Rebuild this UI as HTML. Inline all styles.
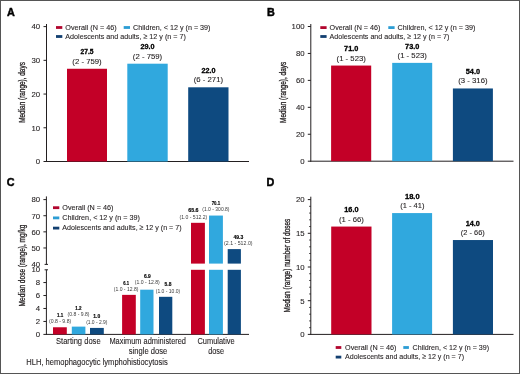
<!DOCTYPE html>
<html><head><meta charset="utf-8"><style>
html,body{margin:0;padding:0;background:#fff;}
svg{display:block;will-change:transform;font-family:"Liberation Sans",sans-serif;}
text{stroke:#231F20;stroke-width:0.1px;}
text.s{stroke-width:0;}
text.sv{stroke-width:0.15px;fill:#000;stroke:#000;}
text.L{stroke-width:0.45px;fill:#000;stroke:#000;}
text.r{stroke-width:0.3px;}
text.v{stroke-width:0.3px;fill:#000;stroke:#000;}
</style></head><body>
<svg width="520" height="374" viewBox="0 0 520 374">
<rect x="0" y="0" width="520" height="374" fill="#555"/>
<rect x="1" y="1" width="518" height="372" fill="#fff"/>
<text class="L" x="7.0" y="16.2" font-size="10.8" font-weight="bold" text-anchor="start" fill="#231F20">A</text>
<line x1="46.5" y1="24" x2="46.5" y2="162" stroke="#231F20" stroke-width="1"/>
<line x1="43.5" y1="161.5" x2="46.5" y2="161.5" stroke="#231F20" stroke-width="1"/>
<text x="40.2" y="164.3" font-size="7.8" font-weight="normal" text-anchor="end" fill="#231F20">0</text>
<line x1="43.5" y1="127.78" x2="46.5" y2="127.78" stroke="#231F20" stroke-width="1"/>
<text x="40.2" y="130.58" font-size="7.8" font-weight="normal" text-anchor="end" fill="#231F20">10</text>
<line x1="43.5" y1="94.05" x2="46.5" y2="94.05" stroke="#231F20" stroke-width="1"/>
<text x="40.2" y="96.85" font-size="7.8" font-weight="normal" text-anchor="end" fill="#231F20">20</text>
<line x1="43.5" y1="60.33" x2="46.5" y2="60.33" stroke="#231F20" stroke-width="1"/>
<text x="40.2" y="63.12" font-size="7.8" font-weight="normal" text-anchor="end" fill="#231F20">30</text>
<line x1="43.5" y1="26.6" x2="46.5" y2="26.6" stroke="#231F20" stroke-width="1"/>
<text x="40.2" y="29.4" font-size="7.8" font-weight="normal" text-anchor="end" fill="#231F20">40</text>
<line x1="46" y1="161.5" x2="249" y2="161.5" stroke="#231F20" stroke-width="1"/>
<rect x="67" y="68.76" width="40" height="92.74" fill="#C30027"/>
<rect x="127.3" y="63.7" width="40.4" height="97.8" fill="#30A8DE"/>
<rect x="188.2" y="87.3" width="40.3" height="74.2" fill="#0E4A80"/>
<text class="v" x="87" y="54.46" font-size="7" font-weight="bold" text-anchor="middle" fill="#231F20" textLength="13" lengthAdjust="spacingAndGlyphs">27.5</text>
<text x="87" y="63.76" font-size="7.3" font-weight="normal" text-anchor="middle" fill="#231F20" textLength="29.3" lengthAdjust="spacingAndGlyphs">(2 - 759)</text>
<text class="v" x="147.5" y="49.4" font-size="7" font-weight="bold" text-anchor="middle" fill="#231F20" textLength="14" lengthAdjust="spacingAndGlyphs">29.0</text>
<text x="147.5" y="58.7" font-size="7.3" font-weight="normal" text-anchor="middle" fill="#231F20" textLength="29.3" lengthAdjust="spacingAndGlyphs">(2 - 759)</text>
<text class="v" x="208.4" y="73" font-size="7" font-weight="bold" text-anchor="middle" fill="#231F20" textLength="14" lengthAdjust="spacingAndGlyphs">22.0</text>
<text x="208.4" y="82.3" font-size="7.3" font-weight="normal" text-anchor="middle" fill="#231F20" textLength="29.3" lengthAdjust="spacingAndGlyphs">(6 - 271)</text>
<rect x="56" y="26.1" width="6.3" height="2.8" fill="#B2062E"/>
<text x="65.3" y="29.5" font-size="8.0" font-weight="normal" text-anchor="start" fill="#231F20" textLength="51.3" lengthAdjust="spacingAndGlyphs">Overall (N = 46)</text>
<rect x="123.7" y="26.1" width="6.3" height="2.8" fill="#2C9DD4"/>
<text x="133.0" y="29.5" font-size="8.0" font-weight="normal" text-anchor="start" fill="#231F20" textLength="77.5" lengthAdjust="spacingAndGlyphs">Children, &lt; 12 y (n = 39)</text>
<rect x="56" y="35.1" width="6.3" height="2.8" fill="#123F70"/>
<text x="65.3" y="38.5" font-size="8.0" font-weight="normal" text-anchor="start" fill="#231F20" textLength="120.5" lengthAdjust="spacingAndGlyphs">Adolescents and adults, ≥ 12 y (n = 7)</text>
<text class="r" transform="translate(25.3,92.5) rotate(-90)" font-size="8.6" text-anchor="middle" fill="#231F20" textLength="60.7" lengthAdjust="spacingAndGlyphs">Median (range), days</text>
<text class="L" x="267.0" y="16" font-size="10.8" font-weight="bold" text-anchor="start" fill="#231F20">B</text>
<line x1="310.8" y1="24" x2="310.8" y2="161.7" stroke="#231F20" stroke-width="1"/>
<line x1="307.8" y1="161.2" x2="310.8" y2="161.2" stroke="#231F20" stroke-width="1"/>
<text x="304.6" y="164.0" font-size="7.8" font-weight="normal" text-anchor="end" fill="#231F20">0</text>
<line x1="307.8" y1="134.26" x2="310.8" y2="134.26" stroke="#231F20" stroke-width="1"/>
<text x="304.6" y="137.06" font-size="7.8" font-weight="normal" text-anchor="end" fill="#231F20">20</text>
<line x1="307.8" y1="107.32" x2="310.8" y2="107.32" stroke="#231F20" stroke-width="1"/>
<text x="304.6" y="110.12" font-size="7.8" font-weight="normal" text-anchor="end" fill="#231F20">40</text>
<line x1="307.8" y1="80.38" x2="310.8" y2="80.38" stroke="#231F20" stroke-width="1"/>
<text x="304.6" y="83.18" font-size="7.8" font-weight="normal" text-anchor="end" fill="#231F20">60</text>
<line x1="307.8" y1="53.44" x2="310.8" y2="53.44" stroke="#231F20" stroke-width="1"/>
<text x="304.6" y="56.24" font-size="7.8" font-weight="normal" text-anchor="end" fill="#231F20">80</text>
<line x1="307.8" y1="26.5" x2="310.8" y2="26.5" stroke="#231F20" stroke-width="1"/>
<text x="304.6" y="29.3" font-size="7.8" font-weight="normal" text-anchor="end" fill="#231F20">100</text>
<line x1="310.3" y1="161.2" x2="513.5" y2="161.2" stroke="#231F20" stroke-width="1"/>
<rect x="331.1" y="65.56" width="40.1" height="95.64" fill="#C30027"/>
<rect x="392.2" y="62.87" width="40" height="98.33" fill="#30A8DE"/>
<rect x="452.9" y="88.46" width="40" height="72.74" fill="#0E4A80"/>
<text class="v" x="351.2" y="51.26" font-size="7" font-weight="bold" text-anchor="middle" fill="#231F20" textLength="14.2" lengthAdjust="spacingAndGlyphs">71.0</text>
<text x="351.2" y="60.56" font-size="7.3" font-weight="normal" text-anchor="middle" fill="#231F20" textLength="29.2" lengthAdjust="spacingAndGlyphs">(1 - 523)</text>
<text class="v" x="412.2" y="48.57" font-size="7" font-weight="bold" text-anchor="middle" fill="#231F20" textLength="14.2" lengthAdjust="spacingAndGlyphs">73.0</text>
<text x="412.2" y="57.87" font-size="7.3" font-weight="normal" text-anchor="middle" fill="#231F20" textLength="29.2" lengthAdjust="spacingAndGlyphs">(1 - 523)</text>
<text class="v" x="472.9" y="74.16" font-size="7" font-weight="bold" text-anchor="middle" fill="#231F20" textLength="14.2" lengthAdjust="spacingAndGlyphs">54.0</text>
<text x="472.9" y="83.46" font-size="7.3" font-weight="normal" text-anchor="middle" fill="#231F20" textLength="29.2" lengthAdjust="spacingAndGlyphs">(3 - 316)</text>
<rect x="320.3" y="26.2" width="6.3" height="2.8" fill="#B2062E"/>
<text x="329.6" y="29.6" font-size="8.0" font-weight="normal" text-anchor="start" fill="#231F20" textLength="50.7" lengthAdjust="spacingAndGlyphs">Overall (N = 46)</text>
<rect x="388.3" y="26.2" width="6.3" height="2.8" fill="#2C9DD4"/>
<text x="397.6" y="29.6" font-size="8.0" font-weight="normal" text-anchor="start" fill="#231F20" textLength="77.8" lengthAdjust="spacingAndGlyphs">Children, &lt; 12 y (n = 39)</text>
<rect x="320.3" y="35.1" width="6.3" height="2.8" fill="#123F70"/>
<text x="329.6" y="38.5" font-size="8.0" font-weight="normal" text-anchor="start" fill="#231F20" textLength="119.8" lengthAdjust="spacingAndGlyphs">Adolescents and adults, ≥ 12 y (n = 7)</text>
<text class="r" transform="translate(285.6,92.35) rotate(-90)" font-size="8.6" text-anchor="middle" fill="#231F20" textLength="61.1" lengthAdjust="spacingAndGlyphs">Median (range), days</text>
<text class="L" x="6.8" y="186" font-size="10.8" font-weight="bold" text-anchor="start" fill="#231F20">C</text>
<line x1="46.4" y1="196.4" x2="46.4" y2="264.4" stroke="#231F20" stroke-width="1"/>
<line x1="46.4" y1="269.8" x2="46.4" y2="334.9" stroke="#231F20" stroke-width="1"/>
<line x1="43.4" y1="199.6" x2="46.4" y2="199.6" stroke="#231F20" stroke-width="1"/>
<text x="40.2" y="202.4" font-size="7.8" font-weight="normal" text-anchor="end" fill="#231F20">80</text>
<line x1="43.4" y1="215.73" x2="46.4" y2="215.73" stroke="#231F20" stroke-width="1"/>
<text x="40.2" y="218.53" font-size="7.8" font-weight="normal" text-anchor="end" fill="#231F20">70</text>
<line x1="43.4" y1="231.85" x2="46.4" y2="231.85" stroke="#231F20" stroke-width="1"/>
<text x="40.2" y="234.65" font-size="7.8" font-weight="normal" text-anchor="end" fill="#231F20">60</text>
<line x1="43.4" y1="247.98" x2="46.4" y2="247.98" stroke="#231F20" stroke-width="1"/>
<text x="40.2" y="250.78" font-size="7.8" font-weight="normal" text-anchor="end" fill="#231F20">50</text>
<text x="40.2" y="266.9" font-size="7.8" font-weight="normal" text-anchor="end" fill="#231F20">40</text>
<text x="40.2" y="272.4" font-size="7.8" font-weight="normal" text-anchor="end" fill="#231F20">10</text>
<line x1="43.4" y1="282.56" x2="46.4" y2="282.56" stroke="#231F20" stroke-width="1"/>
<text x="40.2" y="285.36" font-size="7.8" font-weight="normal" text-anchor="end" fill="#231F20">8</text>
<line x1="43.4" y1="295.52" x2="46.4" y2="295.52" stroke="#231F20" stroke-width="1"/>
<text x="40.2" y="298.32" font-size="7.8" font-weight="normal" text-anchor="end" fill="#231F20">6</text>
<line x1="43.4" y1="308.48" x2="46.4" y2="308.48" stroke="#231F20" stroke-width="1"/>
<text x="40.2" y="311.28" font-size="7.8" font-weight="normal" text-anchor="end" fill="#231F20">4</text>
<line x1="43.4" y1="321.44" x2="46.4" y2="321.44" stroke="#231F20" stroke-width="1"/>
<text x="40.2" y="324.24" font-size="7.8" font-weight="normal" text-anchor="end" fill="#231F20">2</text>
<line x1="43.4" y1="334.4" x2="46.4" y2="334.4" stroke="#231F20" stroke-width="1"/>
<text x="40.2" y="337.2" font-size="7.8" font-weight="normal" text-anchor="end" fill="#231F20">0</text>
<line x1="44.6" y1="264.4" x2="48" y2="264.4" stroke="#231F20" stroke-width="1"/>
<line x1="44.6" y1="269.8" x2="48" y2="269.8" stroke="#231F20" stroke-width="1"/>
<line x1="46" y1="334.4" x2="249" y2="334.4" stroke="#231F20" stroke-width="1"/>
<rect x="53" y="327.27" width="13.8" height="7.13" fill="#C30027"/>
<rect x="71.8" y="326.62" width="13.6" height="7.78" fill="#30A8DE"/>
<rect x="90" y="327.92" width="13.8" height="6.48" fill="#0E4A80"/>
<rect x="122.1" y="294.87" width="13.7" height="39.53" fill="#C30027"/>
<rect x="140.2" y="289.69" width="13.3" height="44.71" fill="#30A8DE"/>
<rect x="159" y="296.82" width="13.3" height="37.58" fill="#0E4A80"/>
<rect x="191" y="222.82" width="13.9" height="40.78" fill="#C30027"/>
<rect x="191" y="269.8" width="13.9" height="64.6" fill="#C30027"/>
<rect x="209" y="215.56" width="13.9" height="48.04" fill="#30A8DE"/>
<rect x="209" y="269.8" width="13.9" height="64.6" fill="#30A8DE"/>
<rect x="227.7" y="249.1" width="13.2" height="14.5" fill="#0E4A80"/>
<rect x="227.7" y="269.8" width="13.2" height="64.6" fill="#0E4A80"/>
<text class="sv" x="60.1" y="316.9" font-size="5.4" font-weight="bold" text-anchor="middle" fill="#231F20" textLength="6.2" lengthAdjust="spacingAndGlyphs">1.1</text>
<text class="s" x="60.1" y="323.3" font-size="5.2" font-weight="normal" text-anchor="middle" fill="#3a3a3a" textLength="22.2" lengthAdjust="spacingAndGlyphs">(0.8 - 9.8)</text>
<text class="sv" x="78.5" y="310" font-size="5.4" font-weight="bold" text-anchor="middle" fill="#231F20" textLength="6.3" lengthAdjust="spacingAndGlyphs">1.2</text>
<text class="s" x="78.5" y="315.9" font-size="5.2" font-weight="normal" text-anchor="middle" fill="#3a3a3a" textLength="21.9" lengthAdjust="spacingAndGlyphs">(0.8 - 9.8)</text>
<text class="sv" x="96.8" y="317.5" font-size="5.4" font-weight="bold" text-anchor="middle" fill="#231F20" textLength="6.9" lengthAdjust="spacingAndGlyphs">1.0</text>
<text class="s" x="96.8" y="324" font-size="5.2" font-weight="normal" text-anchor="middle" fill="#3a3a3a" textLength="21.3" lengthAdjust="spacingAndGlyphs">(1.0 - 2.9)</text>
<text class="sv" x="126.1" y="284.7" font-size="5.4" font-weight="bold" text-anchor="middle" fill="#231F20" textLength="5.8" lengthAdjust="spacingAndGlyphs">6.1</text>
<text class="s" x="126.1" y="290.6" font-size="5.2" font-weight="normal" text-anchor="middle" fill="#3a3a3a" textLength="24.6" lengthAdjust="spacingAndGlyphs">(1.0 - 12.8)</text>
<text class="sv" x="147.3" y="278" font-size="5.4" font-weight="bold" text-anchor="middle" fill="#231F20" textLength="6.8" lengthAdjust="spacingAndGlyphs">6.9</text>
<text class="s" x="147.3" y="284.1" font-size="5.2" font-weight="normal" text-anchor="middle" fill="#3a3a3a" textLength="25" lengthAdjust="spacingAndGlyphs">(1.0 - 12.8)</text>
<text class="sv" x="168" y="286.2" font-size="5.4" font-weight="bold" text-anchor="middle" fill="#231F20" textLength="6.8" lengthAdjust="spacingAndGlyphs">5.8</text>
<text class="s" x="168" y="292.7" font-size="5.2" font-weight="normal" text-anchor="middle" fill="#3a3a3a" textLength="24.5" lengthAdjust="spacingAndGlyphs">(1.0 - 10.0)</text>
<text class="sv" x="193.4" y="211.7" font-size="5.4" font-weight="bold" text-anchor="middle" fill="#231F20" textLength="10.3" lengthAdjust="spacingAndGlyphs">65.6</text>
<text class="s" x="193.4" y="218.8" font-size="5.2" font-weight="normal" text-anchor="middle" fill="#3a3a3a" textLength="27.9" lengthAdjust="spacingAndGlyphs">(1.0 - 512.2)</text>
<text class="sv" x="215.9" y="204.8" font-size="5.4" font-weight="bold" text-anchor="middle" fill="#231F20" textLength="8.5" lengthAdjust="spacingAndGlyphs">70.1</text>
<text class="s" x="215.9" y="211.3" font-size="5.2" font-weight="normal" text-anchor="middle" fill="#3a3a3a" textLength="27.3" lengthAdjust="spacingAndGlyphs">(1.0 - 300.8)</text>
<text class="sv" x="238.3" y="238.8" font-size="5.4" font-weight="bold" text-anchor="middle" fill="#231F20" textLength="9.8" lengthAdjust="spacingAndGlyphs">49.3</text>
<text class="s" x="238.3" y="245.3" font-size="5.2" font-weight="normal" text-anchor="middle" fill="#3a3a3a" textLength="28.5" lengthAdjust="spacingAndGlyphs">(2.1 - 512.0)</text>
<rect x="53" y="206.3" width="6.3" height="2.8" fill="#B2062E"/>
<text x="62.3" y="209.7" font-size="8.0" font-weight="normal" text-anchor="start" fill="#231F20" textLength="51.2" lengthAdjust="spacingAndGlyphs">Overall (N = 46)</text>
<rect x="53" y="216.5" width="6.3" height="2.8" fill="#2C9DD4"/>
<text x="62.3" y="219.9" font-size="8.0" font-weight="normal" text-anchor="start" fill="#231F20" textLength="77.7" lengthAdjust="spacingAndGlyphs">Children, &lt; 12 y (n = 39)</text>
<rect x="53" y="226.7" width="6.3" height="2.8" fill="#123F70"/>
<text x="62.3" y="230.1" font-size="8.0" font-weight="normal" text-anchor="start" fill="#231F20" textLength="119.2" lengthAdjust="spacingAndGlyphs">Adolescents and adults, ≥ 12 y (n = 7)</text>
<text class="r" transform="translate(25.4,265.5) rotate(-90)" font-size="8.6" text-anchor="middle" fill="#231F20" textLength="81.9" lengthAdjust="spacingAndGlyphs">Median dose (range), mg/kg</text>
<text x="78.3" y="344.1" font-size="8.2" font-weight="normal" text-anchor="middle" fill="#231F20" textLength="44.6" lengthAdjust="spacingAndGlyphs">Starting dose</text>
<text x="147.7" y="344.1" font-size="8.2" font-weight="normal" text-anchor="middle" fill="#231F20" textLength="76.6" lengthAdjust="spacingAndGlyphs">Maximum administered</text>
<text x="148" y="353.6" font-size="8.2" font-weight="normal" text-anchor="middle" fill="#231F20" textLength="38.4" lengthAdjust="spacingAndGlyphs">single dose</text>
<text x="216.1" y="344.1" font-size="8.2" font-weight="normal" text-anchor="middle" fill="#231F20" textLength="37.2" lengthAdjust="spacingAndGlyphs">Cumulative</text>
<text x="216.1" y="353.6" font-size="8.2" font-weight="normal" text-anchor="middle" fill="#231F20" textLength="15.8" lengthAdjust="spacingAndGlyphs">dose</text>
<text x="26.3" y="365.2" font-size="8.2" font-weight="normal" text-anchor="start" fill="#231F20" textLength="141.4" lengthAdjust="spacingAndGlyphs">HLH, hemophagocytic lymphohistiocytosis</text>
<text class="L" x="266.6" y="186" font-size="10.8" font-weight="bold" text-anchor="start" fill="#231F20">D</text>
<line x1="310.8" y1="196.7" x2="310.8" y2="334.9" stroke="#231F20" stroke-width="1"/>
<line x1="307.8" y1="334.4" x2="310.8" y2="334.4" stroke="#231F20" stroke-width="1"/>
<text x="304.6" y="337.2" font-size="7.8" font-weight="normal" text-anchor="end" fill="#231F20">0</text>
<line x1="309.2" y1="327.66" x2="310.8" y2="327.66" stroke="#231F20" stroke-width="0.9"/>
<line x1="309.2" y1="320.92" x2="310.8" y2="320.92" stroke="#231F20" stroke-width="0.9"/>
<line x1="309.2" y1="314.18" x2="310.8" y2="314.18" stroke="#231F20" stroke-width="0.9"/>
<line x1="309.2" y1="307.44" x2="310.8" y2="307.44" stroke="#231F20" stroke-width="0.9"/>
<line x1="307.8" y1="300.7" x2="310.8" y2="300.7" stroke="#231F20" stroke-width="1"/>
<text x="304.6" y="303.5" font-size="7.8" font-weight="normal" text-anchor="end" fill="#231F20">5</text>
<line x1="309.2" y1="293.96" x2="310.8" y2="293.96" stroke="#231F20" stroke-width="0.9"/>
<line x1="309.2" y1="287.22" x2="310.8" y2="287.22" stroke="#231F20" stroke-width="0.9"/>
<line x1="309.2" y1="280.48" x2="310.8" y2="280.48" stroke="#231F20" stroke-width="0.9"/>
<line x1="309.2" y1="273.74" x2="310.8" y2="273.74" stroke="#231F20" stroke-width="0.9"/>
<line x1="307.8" y1="267.0" x2="310.8" y2="267.0" stroke="#231F20" stroke-width="1"/>
<text x="304.6" y="269.8" font-size="7.8" font-weight="normal" text-anchor="end" fill="#231F20">10</text>
<line x1="309.2" y1="260.26" x2="310.8" y2="260.26" stroke="#231F20" stroke-width="0.9"/>
<line x1="309.2" y1="253.52" x2="310.8" y2="253.52" stroke="#231F20" stroke-width="0.9"/>
<line x1="309.2" y1="246.78" x2="310.8" y2="246.78" stroke="#231F20" stroke-width="0.9"/>
<line x1="309.2" y1="240.04" x2="310.8" y2="240.04" stroke="#231F20" stroke-width="0.9"/>
<line x1="307.8" y1="233.3" x2="310.8" y2="233.3" stroke="#231F20" stroke-width="1"/>
<text x="304.6" y="236.1" font-size="7.8" font-weight="normal" text-anchor="end" fill="#231F20">15</text>
<line x1="309.2" y1="226.56" x2="310.8" y2="226.56" stroke="#231F20" stroke-width="0.9"/>
<line x1="309.2" y1="219.82" x2="310.8" y2="219.82" stroke="#231F20" stroke-width="0.9"/>
<line x1="309.2" y1="213.08" x2="310.8" y2="213.08" stroke="#231F20" stroke-width="0.9"/>
<line x1="309.2" y1="206.34" x2="310.8" y2="206.34" stroke="#231F20" stroke-width="0.9"/>
<line x1="307.8" y1="199.6" x2="310.8" y2="199.6" stroke="#231F20" stroke-width="1"/>
<text x="304.6" y="202.4" font-size="7.8" font-weight="normal" text-anchor="end" fill="#231F20">20</text>
<line x1="310.3" y1="334.4" x2="513.5" y2="334.4" stroke="#231F20" stroke-width="1"/>
<rect x="331.2" y="226.56" width="40.3" height="107.84" fill="#C30027"/>
<rect x="392.1" y="213.08" width="40" height="121.32" fill="#30A8DE"/>
<rect x="452.9" y="240.04" width="40.1" height="94.36" fill="#0E4A80"/>
<text class="v" x="351.4" y="212.26" font-size="7" font-weight="bold" text-anchor="middle" fill="#231F20" textLength="14.2" lengthAdjust="spacingAndGlyphs">16.0</text>
<text x="351.4" y="221.56" font-size="7.3" font-weight="normal" text-anchor="middle" fill="#231F20" textLength="25" lengthAdjust="spacingAndGlyphs">(1 - 66)</text>
<text class="v" x="412.3" y="198.78" font-size="7" font-weight="bold" text-anchor="middle" fill="#231F20" textLength="14.6" lengthAdjust="spacingAndGlyphs">18.0</text>
<text x="412.3" y="208.08" font-size="7.3" font-weight="normal" text-anchor="middle" fill="#231F20" textLength="24.3" lengthAdjust="spacingAndGlyphs">(1 - 41)</text>
<text class="v" x="472.8" y="225.74" font-size="7" font-weight="bold" text-anchor="middle" fill="#231F20" textLength="14.1" lengthAdjust="spacingAndGlyphs">14.0</text>
<text x="472.8" y="235.04" font-size="7.3" font-weight="normal" text-anchor="middle" fill="#231F20" textLength="24" lengthAdjust="spacingAndGlyphs">(2 - 66)</text>
<rect x="335.7" y="346.1" width="5.6" height="2.8" fill="#B2062E"/>
<text x="345.0" y="349.5" font-size="8.0" font-weight="normal" text-anchor="start" fill="#231F20" textLength="51.4" lengthAdjust="spacingAndGlyphs">Overall (N = 46)</text>
<rect x="403.3" y="346.1" width="5.6" height="2.8" fill="#2C9DD4"/>
<text x="412.6" y="349.5" font-size="8.0" font-weight="normal" text-anchor="start" fill="#231F20" textLength="76.5" lengthAdjust="spacingAndGlyphs">Children, &lt; 12 y (n = 39)</text>
<rect x="335.7" y="355.7" width="5.6" height="2.8" fill="#123F70"/>
<text x="345.0" y="359.1" font-size="8.0" font-weight="normal" text-anchor="start" fill="#231F20" textLength="119" lengthAdjust="spacingAndGlyphs">Adolescents and adults, ≥ 12 y (n = 7)</text>
<text class="r" transform="translate(289.8,265.6) rotate(-90)" font-size="8.6" text-anchor="middle" fill="#231F20" textLength="93.8" lengthAdjust="spacingAndGlyphs">Median (range) number of doses</text>
</svg></body></html>
